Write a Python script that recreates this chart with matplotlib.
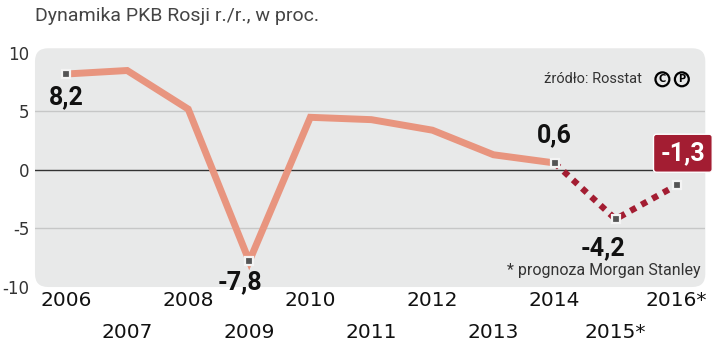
import matplotlib.pyplot as plt
from matplotlib.patches import FancyBboxPatch

# dane
years = [2006, 2007, 2008, 2009, 2010, 2011, 2012, 2013, 2014, 2015, 2016]
gdp = [8.2, 8.5, 5.2, -7.8, 4.5, 4.3, 3.4, 1.3, 0.6, -4.2, -1.3]
year_labels = ['2006', '2007', '2008', '2009', '2010', '2011', '2012', '2013', '2014', '2015*', '2016*']
forecast_from = 8  # 2014 -> start prognozy
marked = [2006, 2009, 2014, 2015, 2016]
yticks = [-10, -5, 0, 5, 10]

salmon = '#E8957F'
darkred = '#A31D32'
bg = '#E8E9E9'
rob = ['Roboto', 'DejaVu Sans']

fig = plt.figure(figsize=(7.2, 3.46), dpi=100)
ax = fig.add_axes([0.0486, 0.1705, 0.931, 0.690])
ax.set_facecolor('none')

# zaokraglone tlo
pos = ax.get_position()
W, H = fig.get_size_inches()
box = FancyBboxPatch((pos.x0 * W, pos.y0 * H), pos.width * W, pos.height * H,
                     boxstyle='round,pad=0,rounding_size=0.13',
                     transform=fig.dpi_scale_trans, fc=bg, ec='none', zorder=-5)
fig.patches.append(box)

ax.set_xlim(2005.49, 2016.47)
ax.set_ylim(-10, 10.4)

for v in [5, -5]:
    ax.axhline(v, color='#C6C7C7', lw=1, zorder=1)
ax.axhline(0, color='#333333', lw=1, zorder=1)

ax.plot(years[:forecast_from + 1], gdp[:forecast_from + 1], color=salmon, lw=5,
        solid_joinstyle='miter', zorder=2)
ax.plot(years[forecast_from:], gdp[forecast_from:], color=darkred, lw=4.5,
        linestyle=(0, (1, 1)), zorder=2)

mx = [y for y in years if y in marked]
my = [gdp[years.index(y)] for y in mx]
ax.plot(mx, my, 's', ms=5.5, mfc='#555555', mec='#F4F4F4', mew=1.6, zorder=3)

# etykiety wartosci
lab = dict(fontsize=18, fontweight='bold', family=rob, color='#111111',
           ha='center', va='center', textcoords='offset points')
ax.annotate('8,2', (2006, 8.2), xytext=(0, -17), **lab)
ax.annotate('-7,8', (2009, -7.8), xytext=(-7, -15), **lab)
ax.annotate('0,6', (2014, 0.6), xytext=(0, 20), **lab)
ax.annotate('-4,2', (2015, -4.2), xytext=(-9, -21), **lab)
ax.annotate('-1,3', (2016, -1.3), xytext=(4.5, 23), fontsize=18, fontweight='bold',
            family=rob, color='white', ha='center', va='center',
            textcoords='offset points',
            bbox=dict(boxstyle='round,pad=0.28,rounding_size=0.12', fc=darkred, ec='white', lw=1))

# osie
ax.set_yticks(yticks)
ax.set_yticklabels([str(v) for v in yticks])
ax.tick_params(axis='y', length=0, pad=4, labelsize=12, labelcolor='#333333')

ax.set_xticks(years[0::2])
ax.set_xticklabels(year_labels[0::2])
ax.set_xticks(years[1::2], minor=True)
ax.set_xticklabels(year_labels[1::2], minor=True)
ax.tick_params(axis='x', which='major', length=0, pad=3, labelsize=14.5, labelcolor='#111111')
ax.tick_params(axis='x', which='minor', length=0, pad=26, labelsize=14.5, labelcolor='#111111')
for s in ax.spines.values():
    s.set_visible(False)

fig.text(0.0486, 0.955, 'Dynamika PKB Rosji r./r., w proc.', fontsize=14, family=rob,
         color='#444444', va='center', ha='left')

ax.text(0.905, 0.87, 'źródło: Rosstat', transform=ax.transAxes, fontsize=10.5, family=rob,
        color='#333333', ha='right', va='center')
ax.text(0.936, 0.87, 'C', transform=ax.transAxes, fontsize=7, fontweight='bold',
        ha='center', va='center', bbox=dict(boxstyle='circle,pad=0.2', fc='none', ec='black', lw=1.6))
ax.text(0.965, 0.87, 'P', transform=ax.transAxes, fontsize=7, fontweight='bold',
        ha='center', va='center', bbox=dict(boxstyle='circle,pad=0.2', fc='none', ec='black', lw=1.6))
ax.text(0.993, 0.07, '* prognoza Morgan Stanley', transform=ax.transAxes, fontsize=11.5, family=rob,
        color='#333333', ha='right', va='center')

fig.savefig('out.png', dpi=100)
